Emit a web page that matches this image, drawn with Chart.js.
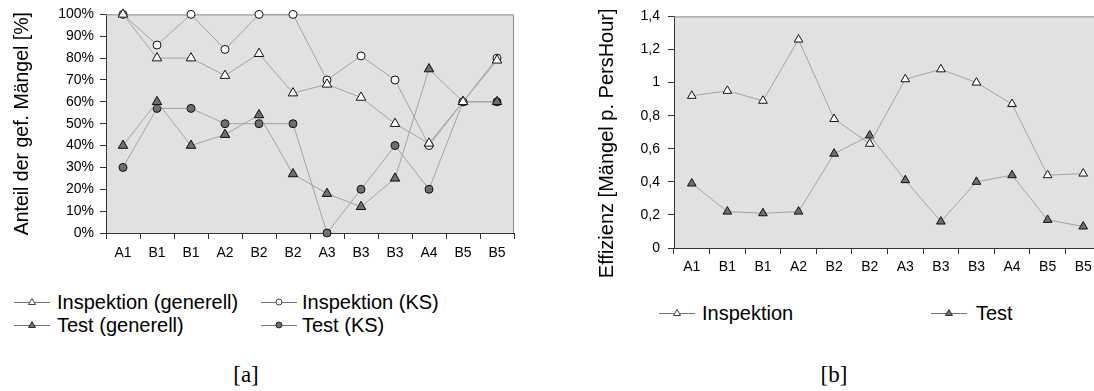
<!DOCTYPE html>
<html>
<head>
<meta charset="utf-8">
<script src="https://cdn.jsdelivr.net/npm/chart.js@4/dist/chart.umd.min.js"></script>
<style>
  html, body { margin: 0; padding: 0; background: #fff; width: 1094px; height: 391px; overflow: hidden; position: relative; }
  .box { position: absolute; }
  .leg { position: absolute; font: 20px "Liberation Sans", Arial, sans-serif; color: #000; white-space: nowrap; line-height: 20px; }
  .leg svg { position: absolute; top: 4px; }
  .cap { position: absolute; width: 60px; text-align: center; font: 23px "Liberation Serif", serif; line-height: 22px; }
</style>
</head>
<body>
<div class="box" style="left:0;top:0;width:522px;height:275px"><canvas id="chartA"></canvas></div>
<div class="box" style="left:547px;top:0;width:565px;height:290px"><canvas id="chartB"></canvas></div>
<div id="legA"></div>
<div id="legB"></div>
<div class="cap" style="left:216px;top:364px">[a]</div>
<div class="cap" style="left:804px;top:364px">[b]</div>
<script>
const categories = ['A1', 'B1', 'B1', 'A2', 'B2', 'B2', 'A3', 'B3', 'B3', 'A4', 'B5', 'B5'];

// [a] share of found defects, percent
const inspGenerell = [100, 80, 80, 72, 82, 64, 68, 62, 50, 41, 60, 79];
const inspKS = [100, 86, 100, 84, 100, 100, 70, 81, 70, 40, 60, 80];
const testGenerell = [40, 60, 40, 45, 54, 27, 18, 12, 25, 75, 60, 60];
const testKS = [30, 57, 57, 50, 50, 50, 0, 20, 40, 20, 60, 60];
const yTicksA = ['0%', '10%', '20%', '30%', '40%', '50%', '60%', '70%', '80%', '90%', '100%'];

// [b] efficiency, defects per person hour
const inspEff = [0.92, 0.95, 0.89, 1.26, 0.78, 0.63, 1.02, 1.08, 1.0, 0.87, 0.44, 0.45];
const testEff = [0.39, 0.22, 0.21, 0.22, 0.57, 0.68, 0.41, 0.16, 0.40, 0.44, 0.17, 0.13];
const yTicksB = ['0', '0,2', '0,4', '0,6', '0,8', '1', '1,2', '1,4'];

const FONT = '"Liberation Sans", Arial, sans-serif';
const LINE = '#a3a3a3';
const DARK = '#6e6e6e';
const AXIS = '#333';

const plotFrame = {
  id: 'plotFrame',
  beforeDraw(chart) {
    const { ctx, chartArea: a } = chart;
    ctx.save();
    ctx.fillStyle = '#e1e1e1';
    ctx.fillRect(a.left, a.top, a.right - a.left, a.bottom - a.top);
    ctx.restore();
  },
  beforeDatasetsDraw(chart) {
    const { ctx, chartArea: a } = chart;
    ctx.save();
    ctx.strokeStyle = '#8c8c8c';
    ctx.lineWidth = 1;
    ctx.beginPath();
    ctx.moveTo(a.left, a.top + 0.5);
    ctx.lineTo(a.right - 0.5, a.top + 0.5);
    ctx.lineTo(a.right - 0.5, a.bottom);
    ctx.stroke();
    ctx.restore();
  },
};

function series(label, data, style, fill, radius) {
  return {
    label,
    data,
    borderColor: LINE,
    borderWidth: 1,
    pointStyle: style,
    pointRadius: radius,
    pointBackgroundColor: fill,
    pointBorderColor: '#111',
    pointBorderWidth: 1,
    clip: false,
  };
}

function xAxis(pad) {
  return {
    offset: true,
    grid: { offset: true, drawOnChartArea: false, drawTicks: true, tickLength: 6, color: AXIS },
    border: { color: AXIS, width: 1 },
    ticks: { color: '#000', font: { family: FONT, size: 14 }, padding: pad, maxRotation: 0, autoSkip: false },
    afterFit(s) { s.height = 42; },
  };
}

function yAxis(max, step, labels, title, titleSize, width, titlePad, tickPad) {
  return {
    min: 0,
    max,
    grid: { drawOnChartArea: false, tickLength: 6, color: AXIS },
    border: { color: AXIS, width: 1 },
    ticks: {
      stepSize: step,
      color: '#000',
      font: { family: FONT, size: 14 },
      padding: tickPad,
      callback: (v, i) => labels[i],
    },
    title: { display: true, text: title, color: '#000', font: { family: FONT, size: titleSize }, padding: { top: titlePad, bottom: 0 } },
    afterFit(s) { s.width = width; },
  };
}

function baseOptions(padRight, scales) {
  return {
    responsive: true,
    maintainAspectRatio: false,
    animation: false,
    devicePixelRatio: 1,
    layout: { padding: { top: 11, right: padRight, bottom: 0, left: 0 } },
    plugins: { legend: { display: false }, tooltip: { enabled: false } },
    scales,
  };
}

new Chart(document.getElementById('chartA'), {
  type: 'line',
  data: {
    labels: categories,
    datasets: [
      series('Inspektion (generell)', inspGenerell, 'triangle', '#fff', 5.5),
      series('Inspektion (KS)', inspKS, 'circle', '#fff', 4),
      series('Test (generell)', testGenerell, 'triangle', DARK, 5.5),
      series('Test (KS)', testKS, 'circle', DARK, 4),
    ],
  },
  options: baseOptions(8, {
    x: xAxis(6),
    y: yAxis(100, 10, yTicksA, 'Anteil der gef. Mängel [%]', 19.5, 106, 11, 6),
  }),
  plugins: [plotFrame],
});

// trailing spaces push the rotated title a little lower, as in the original
new Chart(document.getElementById('chartB'), {
  type: 'line',
  data: {
    labels: categories,
    datasets: [
      series('Inspektion', inspEff, 'triangle', '#fff', 5),
      series('Test', testEff, 'triangle', DARK, 5),
    ],
  },
  options: baseOptions(11, {
    x: xAxis(5),
    y: yAxis(1.4, 0.2, yTicksB, 'Effizienz [Mängel p. PersHour]    ', 20, 127, 48, 8),
  }),
  plugins: [plotFrame],
});

// legends: small line sample with marker, then the label
function sample(kind, fill) {
  const m = kind === 'triangle'
    ? `<polygon points="18,2.5 21.5,8.5 14.5,8.5" fill="${fill}" stroke="#111" stroke-width="0.8"/>`
    : `<circle cx="18" cy="6" r="3" fill="${fill}" stroke="#111" stroke-width="0.8"/>`;
  return `<svg width="36" height="12" viewBox="0 0 36 12"><line x1="0" y1="6.5" x2="36" y2="6.5" stroke="#777" stroke-width="1"/>${m}</svg>`;
}

function legendItem(parent, x, y, textX, label, kind, fill) {
  const d = document.createElement('div');
  d.className = 'leg';
  d.style.left = x + 'px';
  d.style.top = (y - 10) + 'px';
  d.innerHTML = sample(kind, fill) + `<span style="position:absolute;left:${textX - x}px;top:0">${label}</span>`;
  parent.appendChild(d);
}

const legA = document.getElementById('legA');
legendItem(legA, 14, 302, 57, 'Inspektion (generell)', 'triangle', '#fff');
legendItem(legA, 261, 302, 302, 'Inspektion (KS)', 'circle', '#fff');
legendItem(legA, 14, 325, 57, 'Test (generell)', 'triangle', DARK);
legendItem(legA, 261, 325, 302, 'Test (KS)', 'circle', DARK);

const legB = document.getElementById('legB');
legendItem(legB, 659, 313, 702, 'Inspektion', 'triangle', '#fff');
legendItem(legB, 931, 313, 976, 'Test', 'triangle', DARK);
</script>
</body>
</html>
